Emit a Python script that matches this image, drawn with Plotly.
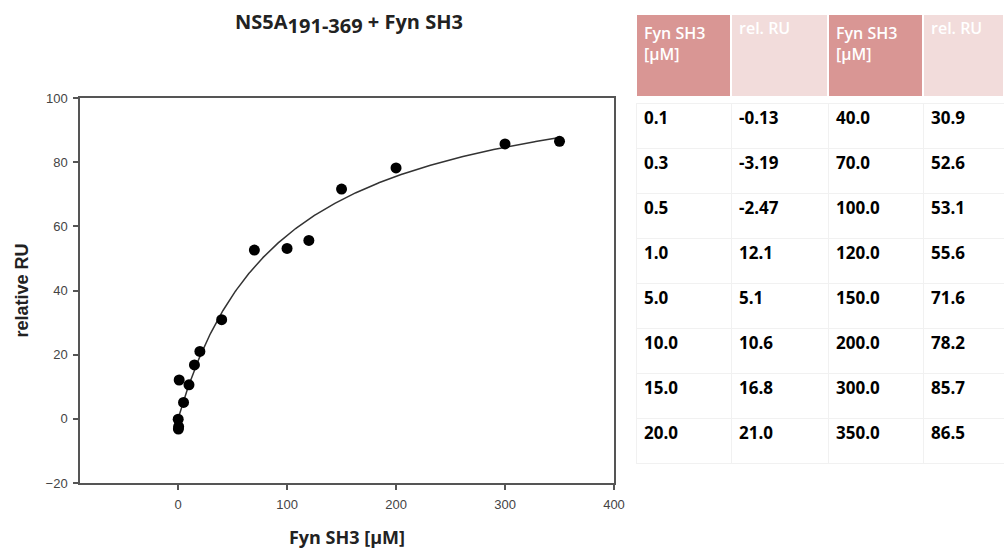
import numpy as np
import plotly.graph_objects as go

# Titration data: Fyn SH3 concentration (µM) vs. relative response units
conc_low = [0.1, 0.3, 0.5, 1.0, 5.0, 10.0, 15.0, 20.0]
ru_low = [-0.13, -3.19, -2.47, 12.1, 5.1, 10.6, 16.8, 21.0]
conc_high = [40.0, 70.0, 100.0, 120.0, 150.0, 200.0, 300.0, 350.0]
ru_high = [30.9, 52.6, 53.1, 55.6, 71.6, 78.2, 85.7, 86.5]

x_ticks = [0, 100, 200, 300, 400]
y_ticks = [-20, 0, 20, 40, 60, 80, 100]
header_labels = ["Fyn SH3<br>[µM]", "rel. RU", "Fyn SH3<br>[µM]", "rel. RU"]

conc = np.array(conc_low + conc_high)
ru = np.array(ru_low + ru_high)

# One-site binding fit  y = Bmax * x / (Kd + x), least squares over Kd
best = None
for kd in np.linspace(1, 400, 4000):
    f = conc / (kd + conc)
    bmax = float(np.dot(f, ru) / np.dot(f, f))
    sse = float(np.sum((ru - bmax * f) ** 2))
    if best is None or sse < best[0]:
        best = (sse, kd, bmax)
_, kd_fit, bmax_fit = best
x_fit = np.linspace(0, conc.max(), 400)
y_fit = bmax_fit * x_fit / (kd_fit + x_fit)


def fmt_conc(v):
    return f"{v:.1f}"


def fmt_ru(v):
    return f"{v:.2f}" if abs(v * 10 - round(v * 10)) > 1e-9 else f"{v:.1f}"


W, H = 1004, 552
fig = go.Figure()

fig.add_trace(go.Scatter(
    x=x_fit, y=y_fit, mode="lines",
    line=dict(color="#333333", width=1.5), hoverinfo="skip", showlegend=False,
))
fig.add_trace(go.Scatter(
    x=conc, y=ru, mode="markers",
    marker=dict(color="black", size=11), showlegend=False,
))

# Data table: coloured header block and the value rows below it
dark_head = "#d99694"
light_head = "#f2dcdb"
col_widths = [95, 97, 95, 81]
table_x = [636 / W, 1.0]
clear = "rgba(0,0,0,0)"

fig.add_trace(go.Table(
    domain=dict(x=table_x, y=[1 - 100 / H, 1 - 14 / H]),
    columnwidth=col_widths,
    header=dict(
        values=header_labels,
        fill_color=[dark_head, light_head, dark_head, light_head],
        line=dict(color="white", width=2),
        align="left",
        height=83,
        font=dict(family="Open Sans", size=16, color="white", weight=600),
    ),
    cells=dict(values=[[], [], [], []]),
))

fig.add_trace(go.Table(
    domain=dict(x=table_x, y=[1 - 470 / H, 1 - 87 / H]),
    columnwidth=col_widths,
    header=dict(values=[], height=0, fill_color=clear, line=dict(color=clear, width=0)),
    cells=dict(
        values=[
            [fmt_conc(v) for v in conc_low],
            [fmt_ru(v) for v in ru_low],
            [fmt_conc(v) for v in conc_high],
            [fmt_ru(v) for v in ru_high],
        ],
        fill_color="white",
        line=dict(color="#f1f1f1", width=1),
        align="left",
        height=45,
        font=dict(family="Open Sans", size=17, color="black", weight="bold"),
    ),
))

axis_common = dict(
    showline=True, linecolor="#555555", linewidth=1.5, mirror=True,
    ticks="outside", ticklen=5, tickcolor="#555555", tickwidth=1.5,
    showgrid=False, zeroline=False, automargin=False,
    tickfont=dict(family="Liberation Sans", size=13, color="#444444"),
)

fig.update_layout(
    width=W, height=H,
    margin=dict(l=0, r=0, t=0, b=0),
    paper_bgcolor="white", plot_bgcolor="white",
    xaxis=dict(
        domain=[80 / W, 614 / W], range=[-90, 400],
        tickvals=x_ticks, ticklabelstandoff=4,
        title=dict(text="Fyn SH3 [µM]", standoff=20,
                   font=dict(family="Open Sans", size=18, color="#222222", weight="bold")),
        **axis_common,
    ),
    yaxis=dict(
        domain=[1 - 483 / H, 1 - 98 / H], range=[-20, 100],
        tickvals=y_ticks, ticklabelstandoff=3,
        title=dict(text="relative RU", standoff=12,
                   font=dict(family="Liberation Sans", size=18, color="#222222", weight="bold")),
        **axis_common,
    ),
    title=dict(
        text="NS5A<sub><span style='font-size:20px'>191-369</span></sub> + Fyn SH3",
        xref="paper", x=349 / W, xanchor="center",
        yref="paper", y=1 - 22 / H, yanchor="middle",
        font=dict(family="Open Sans", size=20, color="#222222", weight="bold"),
    ),
)

fig.write_html("out.html")
